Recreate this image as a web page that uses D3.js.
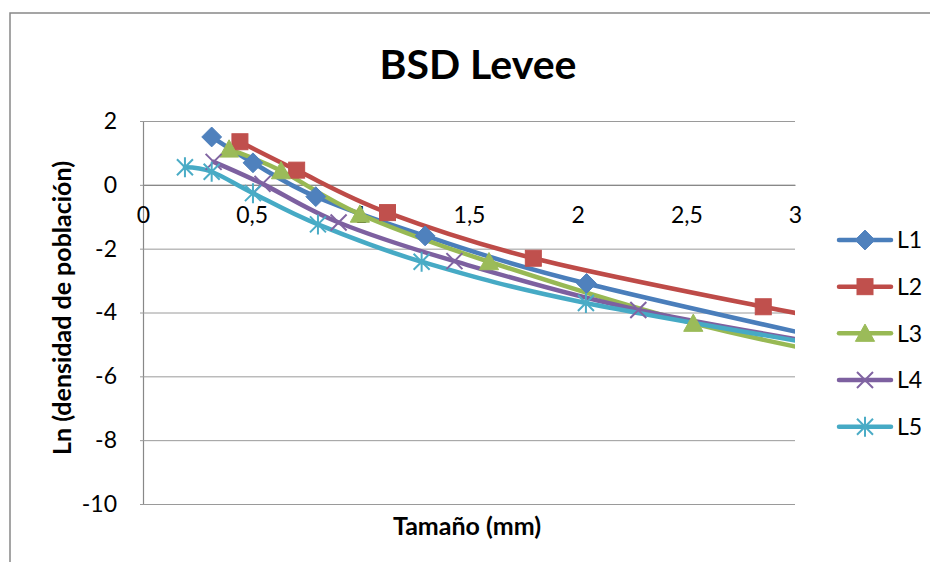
<!DOCTYPE html>
<html>
<head>
<meta charset="utf-8">
<script src="https://cdn.jsdelivr.net/npm/d3@7"></script>
<style>
  html, body { margin: 0; padding: 0; background: #fff; }
  svg { display: block; font-family: Lato, "Open Sans", sans-serif; }
</style>
</head>
<body>
<svg id="chart" width="930" height="562"></svg>
<script>
// Series names and point values (x = Tamaño in mm, y = Ln of population density).
// The last point of each series lies past the axis maximum and is clipped.
const seriesNames = ["L1", "L2", "L3", "L4", "L5"];
const L1x = [0.316, 0.506, 0.795, 1.298, 2.041, 3.6];
const L1y = [1.50, 0.69, -0.37, -1.60, -3.09, -5.5];
const L2x = [0.446, 0.707, 1.125, 1.796, 2.854, 3.5];
const L2y = [1.35, 0.46, -0.87, -2.30, -3.82, -4.6];
const L3x = [0.396, 0.635, 0.998, 1.592, 2.532, 3.4];
const L3y = [1.12, 0.44, -0.92, -2.41, -4.34, -5.6];
const L4x = [0.325, 0.55, 0.90, 1.433, 2.279, 3.5];
const L4y = [0.72, 0.03, -1.18, -2.39, -3.92, -5.4];
const L5x = [0.193, 0.316, 0.506, 0.805, 1.282, 2.038, 3.5];
const L5y = [0.55, 0.41, -0.26, -1.24, -2.41, -3.70, -5.45];
const xTicks = [0, 0.5, 1, 1.5, 2, 2.5, 3];
const yTicks = [2, 0, -2, -4, -6, -8, -10];
const titleText = "BSD Levee";
const xTitle = "Tamaño (mm)";
const yTitle = "Ln (densidad de población)";

const lineColors = ["#4a7ebb", "#be4b48", "#98b954", "#7d60a0", "#46aac5"];
const markerColors = ["#4f81bd", "#c0504d", "#9bbb59", "#8064a2", "#4bacc6"];
const markerTypes = ["diamond", "square", "triangle", "x", "star"];

const series = [[L1x, L1y], [L2x, L2y], [L3x, L3y], [L4x, L4y], [L5x, L5y]].map((d, i) => ({
  name: seriesNames[i],
  points: d[0].map((x, j) => ({ x, y: d[1][j] }))
}));

const svg = d3.select("#chart");
const plot = { left: 143, right: 795, top: 121, bottom: 504 };

const x = d3.scaleLinear().domain([0, 3]).range([plot.left, plot.right]);
const y = d3.scaleLinear().domain([-10, 2]).range([plot.bottom, plot.top]);

// Outer chart frame
svg.append("path")
  .attr("d", "M10,570 L10,13 L940,13")
  .attr("fill", "none").attr("stroke", "#888").attr("stroke-width", 1.5);

// Title
svg.append("text")
  .attr("x", 478).attr("y", 79)
  .attr("text-anchor", "middle")
  .attr("font-weight", "bold").attr("font-size", 41)
  .attr("fill", "#000")
  .text(titleText);

// Horizontal gridlines via the y axis (plain hyphen for negatives)
const yAxis = d3.axisLeft(y).tickValues(yTicks).tickSize(-(plot.right - plot.left)).tickPadding(26)
  .tickFormat(d => String(d));
const gy = svg.append("g").attr("transform", `translate(${plot.left},0)`).call(yAxis);
gy.select(".domain").attr("stroke", "#888").attr("stroke-width", 1.2);
gy.selectAll(".tick line").attr("stroke", "#9a9a9a").attr("stroke-width", 1).attr("x1", -3);
gy.selectAll(".tick text")
  .attr("font-size", 23).attr("fill", "#000")
  .attr("font-family", "Lato, sans-serif");

// X axis crossing at y = 0, labels below, no tick marks
const xAxis = d3.axisBottom(x).tickValues(xTicks).tickSize(0).tickPadding(22)
  .tickFormat(d => String(d).replace(".", ","));
const gx = svg.append("g").attr("transform", `translate(0,${y(0)})`).call(xAxis);
gx.select(".domain").attr("stroke", "#888").attr("stroke-width", 1.2);
gx.selectAll(".tick text")
  .attr("font-size", 23).attr("fill", "#000")
  .attr("font-family", "Lato, sans-serif");

// Axis titles
svg.append("text")
  .attr("x", 467).attr("y", 535)
  .attr("text-anchor", "middle")
  .attr("font-weight", "bold").attr("font-size", 25)
  .text(xTitle);
svg.append("text")
  .attr("transform", "translate(71,308) rotate(-90)")
  .attr("text-anchor", "middle")
  .attr("font-weight", "bold").attr("font-size", 25)
  .text(yTitle);

// Clip series to the plot area horizontally
svg.append("clipPath").attr("id", "plotClip")
  .append("rect").attr("x", plot.left - 40).attr("y", 0)
  .attr("width", plot.right - plot.left + 40).attr("height", 562);

const line = d3.line()
  .x(d => x(d.x)).y(d => y(d.y))
  .curve(d3.curveCatmullRom.alpha(0));

function drawMarker(g, type, color, size) {
  const s = size;
  if (type === "diamond") {
    g.append("path").attr("d", `M0,${-s * 0.62} L${s * 0.62},0 L0,${s * 0.62} L${-s * 0.62},0 Z`)
      .attr("fill", color).attr("stroke", color).attr("stroke-width", 1);
  } else if (type === "square") {
    g.append("rect").attr("x", -s / 2).attr("y", -s / 2).attr("width", s).attr("height", s)
      .attr("fill", color).attr("stroke", color).attr("stroke-width", 1);
  } else if (type === "triangle") {
    g.append("path").attr("d", `M0,${-s * 0.58} L${s * 0.6},${s * 0.5} L${-s * 0.6},${s * 0.5} Z`)
      .attr("fill", color).attr("stroke", color).attr("stroke-width", 1);
  } else if (type === "x") {
    const r = s * 0.5;
    g.append("path").attr("d", `M${-r},${-r} L${r},${r} M${-r},${r} L${r},${-r}`)
      .attr("fill", "none").attr("stroke", color).attr("stroke-width", 2);
  } else if (type === "star") {
    const r = s * 0.5;
    g.append("path").attr("d", `M${-r},${-r} L${r},${r} M${-r},${r} L${r},${-r} M0,${-r * 1.25} L0,${r * 1.25}`)
      .attr("fill", "none").attr("stroke", color).attr("stroke-width", 2);
  }
}

const gSeries = svg.append("g").attr("clip-path", "url(#plotClip)");
series.forEach((s, i) => {
  gSeries.append("path")
    .datum(s.points)
    .attr("fill", "none")
    .attr("stroke", lineColors[i])
    .attr("stroke-width", 4.5)
    .attr("stroke-linejoin", "round")
    .attr("stroke-linecap", "round")
    .attr("d", line);
});
series.forEach((s, i) => {
  s.points.filter(p => p.x <= 3).forEach(p => {
    const g = gSeries.append("g").attr("transform", `translate(${x(p.x)},${y(p.y)})`);
    drawMarker(g, markerTypes[i], markerColors[i], 16);
  });
});

// Legend
const legendY = d3.scaleLinear().domain([0, 4]).range([240, 426.7]);
const legend = svg.append("g");
series.forEach((s, i) => {
  const ly = legendY(i);
  legend.append("line")
    .attr("x1", 839).attr("x2", 891).attr("y1", ly).attr("y2", ly)
    .attr("stroke", lineColors[i]).attr("stroke-width", 4.5).attr("stroke-linecap", "round");
  const g = legend.append("g").attr("transform", `translate(865,${ly})`);
  drawMarker(g, markerTypes[i], markerColors[i], 16);
  legend.append("text")
    .attr("x", 897).attr("y", ly)
    .attr("dy", "0.36em")
    .attr("font-size", 23).attr("fill", "#000")
    .text(s.name);
});
</script>
</body>
</html>
